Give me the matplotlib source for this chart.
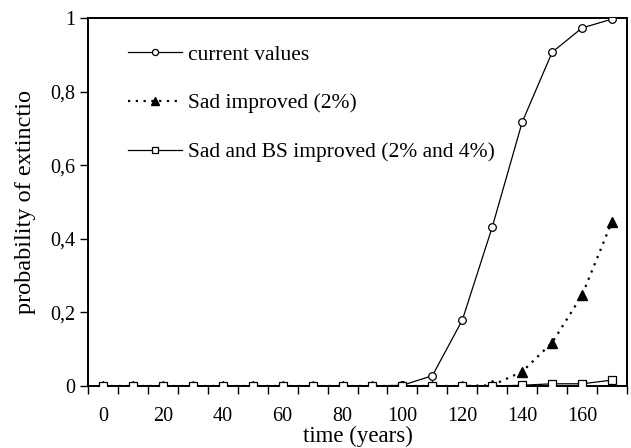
import matplotlib
matplotlib.use("Agg")
import matplotlib.pyplot as plt

time = list(range(0, 171, 10))
current = [0, 0, 0, 0, 0, 0, 0, 0, 0, 0, 0.002, 0.028, 0.179, 0.432, 0.717, 0.907, 0.973, 0.997]
sad = [0, 0, 0, 0, 0, 0, 0, 0, 0, 0, 0, 0, 0, 0.002, 0.039, 0.118, 0.247, 0.447]
sad_bs = [0, 0, 0, 0, 0, 0, 0, 0, 0, 0, 0, 0, 0, 0, 0.002, 0.006, 0.006, 0.016]
labels = ["current values", "Sad improved (2%)", "Sad and BS improved (2% and 4%)"]
xtick_labels = [0, 20, 40, 60, 80, 100, 120, 140, 160]
ytick_vals = [0, 0.2, 0.4, 0.6, 0.8, 1.0]
ytick_labels = ["0", "0,2", "0,4", "0,6", "0,8", "1"]

plt.rcParams['font.family'] = ['Liberation Serif', 'DejaVu Serif']
plt.rcParams['font.size'] = 14.5

fig = plt.figure(figsize=(6.31, 4.48), dpi=100)
ax = fig.add_axes([88/631, 1-386/448, (627-88)/631, (386-18)/448])

l1, = ax.plot(time, current, '-', color='black', lw=0.9, marker='o', ms=5.5,
              mfc='white', mec='black', mew=0.9, label=labels[0], zorder=3)
l2, = ax.plot(time, sad, color='black', lw=1.6, linestyle=(0, (1, 2.5)), marker='^', ms=7,
              mfc='black', mec='black', label=labels[1], zorder=4)
l3, = ax.plot(time, sad_bs, '-', color='black', lw=0.9, marker='s', ms=5.5,
              mfc='white', mec='black', mew=0.9, label=labels[2], zorder=5)

ax.set_xlim(-5, 175)
ax.set_ylim(0, 1)
ax.set_xticks([t - 5 for t in time] + [175])
ax.set_xticklabels([])
ax.set_xticks(xtick_labels, minor=True)
ax.set_xticklabels([str(v) for v in xtick_labels], minor=True)
ax.tick_params(axis='x', which='major', direction='out', length=6, width=1)
ax.tick_params(axis='x', which='minor', length=0, pad=15)
ax.set_yticks(ytick_vals)
ax.set_yticklabels(ytick_labels)
ax.tick_params(axis='y', direction='out', length=6, width=1, pad=3)
for s in ax.spines.values():
    s.set_linewidth(1.4)

ax.set_xlabel("time (years)", fontsize=16.5, labelpad=0)
ax.set_ylabel("probability of extinctio", fontsize=17.5, labelpad=10)

leg = ax.legend(handles=[l1, l2, l3], loc='upper left', frameon=False,
                bbox_to_anchor=(128/631, 1-44.5/448), bbox_transform=fig.transFigure,
                borderpad=0, borderaxespad=0, handlelength=2.5, handletextpad=0.3,
                labelspacing=1.34, markerscale=0.8, fontsize=15.5)

fig.savefig("out.png", dpi=100)
